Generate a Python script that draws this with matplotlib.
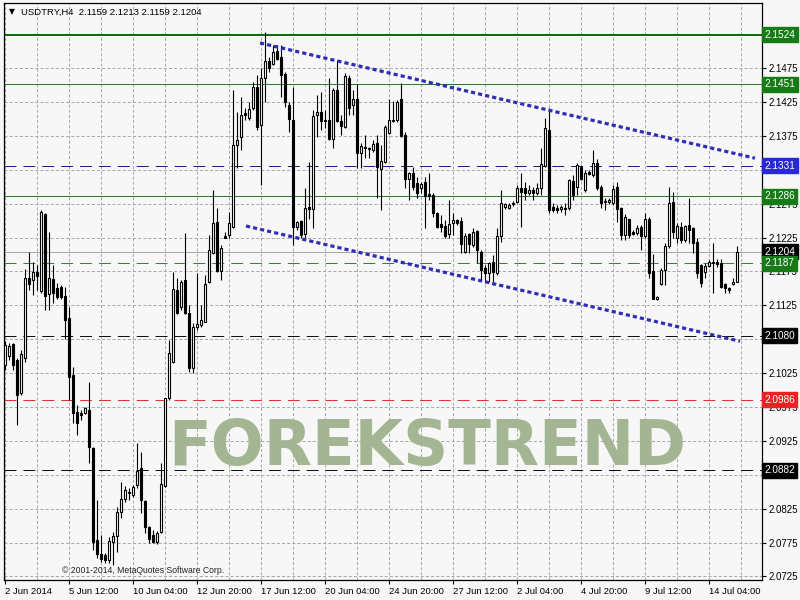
import matplotlib
matplotlib.use('Agg')
import matplotlib.pyplot as plt

plt.rcParams['font.family'] = ['Liberation Sans', 'DejaVu Sans']
plt.rcParams['lines.scale_dashes'] = False

# USDTRY H4 candles, 2 Jun - 15 Jul 2014
opens = [2.1037, 2.1050, 2.1068, 2.1044, 2.0995, 2.1048, 2.1166, 2.1162,
         2.1174, 2.1146, 2.1259, 2.1141, 2.1164, 2.1150, 2.1152, 2.1138,
         2.1106, 2.1022, 2.0967, 2.0966, 2.0966, 2.0970, 2.0914, 2.0779,
         2.0758, 2.0756, 2.0749, 2.0776, 2.0784, 2.0820, 2.0840, 2.0848,
         2.0845, 2.0860, 2.0885, 2.0836, 2.0798, 2.0786, 2.0776, 2.0790,
         2.0858, 2.0988, 2.1041, 2.1147, 2.1122, 2.1162, 2.1113, 2.1032,
         2.1093, 2.1096, 2.1101, 2.1159, 2.1202, 2.1248, 2.1175, 2.1227,
         2.1228, 2.1240, 2.1361, 2.1373, 2.1408, 2.1401, 2.1416, 2.1447,
         2.1391, 2.1460, 2.1485, 2.1481, 2.1500, 2.1491, 2.1466, 2.1420,
         2.1398, 2.1240, 2.1249, 2.1230, 2.1270, 2.1267, 2.1405, 2.1410,
         2.1397, 2.1398, 2.1371, 2.1442, 2.1397, 2.1388, 2.1460, 2.1420,
         2.1430, 2.1349, 2.1357, 2.1355, 2.1354, 2.1364, 2.1326, 2.1336,
         2.1379, 2.1397, 2.1398, 2.1429, 2.1376, 2.1312, 2.1320, 2.1305,
         2.1298, 2.1307, 2.1289, 2.1287, 2.1261, 2.1245, 2.1242, 2.1230,
         2.1246, 2.1251, 2.1249, 2.1203, 2.1230, 2.1214, 2.1234, 2.1203,
         2.1180, 2.1172, 2.1189, 2.1172, 2.1227, 2.1270, 2.1268, 2.1274,
         2.1277, 2.1298, 2.1298, 2.1290, 2.1295, 2.1290, 2.1298, 2.1330,
         2.1383, 2.1270, 2.1268, 2.1267, 2.1268, 2.1268, 2.1308, 2.1299,
         2.1329, 2.1295, 2.1321, 2.1317, 2.1335, 2.1299, 2.1279, 2.1277,
         2.1276, 2.1299, 2.1268, 2.1228, 2.1252, 2.1233, 2.1231, 2.1240,
         2.1227, 2.1253, 2.1175, 2.1134, 2.1156, 2.1177, 2.1212, 2.1277,
         2.1224, 2.1240, 2.1222, 2.1243, 2.1239, 2.1218, 2.1184, 2.1174,
         2.1183, 2.1187, 2.1189, 2.1187, 2.1156, 2.1150, 2.1156, 2.1159]
highs = [2.1072, 2.1069, 2.1069, 2.1048, 2.1059, 2.1178, 2.1203, 2.1189,
         2.1184, 2.1265, 2.1261, 2.1233, 2.1184, 2.1158, 2.1155, 2.1152,
         2.1122, 2.1034, 2.0978, 2.0970, 2.0975, 2.1012, 2.0916, 2.0838,
         2.0786, 2.0759, 2.0783, 2.0790, 2.0827, 2.0864, 2.0858, 2.0855,
         2.0860, 2.0922, 2.0908, 2.0838, 2.0799, 2.0793, 2.0792, 2.0892,
         2.0989, 2.1074, 2.1174, 2.1166, 2.1162, 2.1231, 2.1125, 2.1099,
         2.1172, 2.1125, 2.1169, 2.1228, 2.1295, 2.1268, 2.1214, 2.1233,
         2.1262, 2.1442, 2.1410, 2.1432, 2.1416, 2.1425, 2.1454, 2.1464,
         2.1475, 2.1528, 2.1491, 2.1509, 2.1509, 2.1509, 2.1469, 2.1425,
         2.1447, 2.1249, 2.1251, 2.1298, 2.1336, 2.1413, 2.1435, 2.1439,
         2.1413, 2.1461, 2.1445, 2.1487, 2.1405, 2.1467, 2.1464, 2.1442,
         2.1451, 2.1364, 2.1376, 2.1358, 2.1369, 2.1376, 2.1361, 2.1391,
         2.1429, 2.1426, 2.1428, 2.1453, 2.1380, 2.1321, 2.1329, 2.1314,
         2.1307, 2.1314, 2.1320, 2.1290, 2.1262, 2.1258, 2.1251, 2.1280,
         2.1261, 2.1253, 2.1255, 2.1231, 2.1231, 2.1239, 2.1236, 2.1206,
         2.1184, 2.1189, 2.1199, 2.1239, 2.1295, 2.1276, 2.1276, 2.1279,
         2.1302, 2.1320, 2.1307, 2.1302, 2.1299, 2.1305, 2.1357, 2.1402,
         2.1416, 2.1276, 2.1273, 2.1273, 2.1276, 2.1312, 2.1317, 2.1335,
         2.1332, 2.1324, 2.1324, 2.1354, 2.1341, 2.1302, 2.1284, 2.1283,
         2.1302, 2.1307, 2.1270, 2.1259, 2.1253, 2.1236, 2.1243, 2.1243,
         2.1261, 2.1255, 2.1200, 2.1138, 2.1180, 2.1217, 2.1299, 2.1292,
         2.1246, 2.1248, 2.1243, 2.1284, 2.1240, 2.1224, 2.1186, 2.1187,
         2.1192, 2.1217, 2.1194, 2.1194, 2.1158, 2.1152, 2.1165, 2.1213]
lows = [2.1029, 2.1044, 2.1029, 2.0948, 2.0992, 2.1041, 2.1147, 2.1140,
        2.1147, 2.1143, 2.1118, 2.1118, 2.1128, 2.1135, 2.1134, 2.1075,
        2.0985, 2.0951, 2.0933, 2.0956, 2.0964, 2.0892, 2.0764, 2.0752,
        2.0746, 2.0745, 2.0745, 2.0742, 2.0761, 2.0812, 2.0835, 2.0838,
        2.0842, 2.0855, 2.0818, 2.0789, 2.0774, 2.0774, 2.0773, 2.0789,
        2.0857, 2.0985, 2.1040, 2.1112, 2.1118, 2.1112, 2.1026, 2.1025,
        2.1088, 2.1093, 2.1100, 2.1158, 2.1201, 2.1174, 2.1162, 2.1224,
        2.1225, 2.1239, 2.1327, 2.1354, 2.1398, 2.1398, 2.1413, 2.1383,
        2.1302, 2.1425, 2.1469, 2.1479, 2.1487, 2.1432, 2.1417, 2.1380,
        2.1214, 2.1236, 2.1225, 2.1225, 2.1253, 2.1239, 2.1373, 2.1383,
        2.1386, 2.1369, 2.1357, 2.1395, 2.1376, 2.1386, 2.1405, 2.1405,
        2.1327, 2.1327, 2.1343, 2.1343, 2.1351, 2.1284, 2.1265, 2.1335,
        2.1378, 2.1395, 2.1395, 2.1373, 2.1298, 2.1280, 2.1295, 2.1283,
        2.1290, 2.1239, 2.1280, 2.1255, 2.1239, 2.1233, 2.1225, 2.1225,
        2.1228, 2.1243, 2.1202, 2.1202, 2.1202, 2.1211, 2.1187, 2.1162,
        2.1159, 2.1159, 2.1155, 2.1169, 2.1218, 2.1267, 2.1267, 2.1271,
        2.1276, 2.1240, 2.1280, 2.1287, 2.1280, 2.1287, 2.1287, 2.1329,
        2.1261, 2.1262, 2.1261, 2.1262, 2.1258, 2.1265, 2.1280, 2.1287,
        2.1310, 2.1292, 2.1317, 2.1314, 2.1295, 2.1268, 2.1265, 2.1274,
        2.1273, 2.1248, 2.1221, 2.1221, 2.1224, 2.1228, 2.1228, 2.1206,
        2.1225, 2.1166, 2.1134, 2.1133, 2.1155, 2.1155, 2.1209, 2.1224,
        2.1217, 2.1217, 2.1219, 2.1217, 2.1202, 2.1166, 2.1152, 2.1166,
        2.1181, 2.1143, 2.1181, 2.1150, 2.1143, 2.1143, 2.1155, 2.1159]
closes = [2.1066, 2.1065, 2.1037, 2.0992, 2.1053, 2.1165, 2.1156, 2.1174,
          2.1168, 2.1262, 2.1138, 2.1165, 2.1143, 2.1137, 2.1137, 2.1103,
          2.1019, 2.0966, 2.0951, 2.0963, 2.0973, 2.0916, 2.0776, 2.0758,
          2.0751, 2.0749, 2.0777, 2.0784, 2.0820, 2.0839, 2.0852, 2.0850,
          2.0857, 2.0880, 2.0838, 2.0798, 2.0781, 2.0776, 2.0789, 2.0861,
          2.0988, 2.1054, 2.1149, 2.1113, 2.1159, 2.1113, 2.1032, 2.1093,
          2.1097, 2.1103, 2.1156, 2.1206, 2.1246, 2.1175, 2.1209, 2.1225,
          2.1246, 2.1361, 2.1369, 2.1405, 2.1405, 2.1414, 2.1447, 2.1388,
          2.1461, 2.1485, 2.1475, 2.1498, 2.1489, 2.1464, 2.1425, 2.1400,
          2.1240, 2.1248, 2.1228, 2.1268, 2.1267, 2.1404, 2.1410, 2.1397,
          2.1398, 2.1371, 2.1442, 2.1397, 2.1389, 2.1463, 2.1416, 2.1429,
          2.1349, 2.1360, 2.1358, 2.1357, 2.1363, 2.1329, 2.1338, 2.1388,
          2.1398, 2.1398, 2.1425, 2.1374, 2.1312, 2.1320, 2.1299, 2.1290,
          2.1304, 2.1286, 2.1286, 2.1261, 2.1240, 2.1240, 2.1227, 2.1245,
          2.1251, 2.1246, 2.1215, 2.1227, 2.1215, 2.1233, 2.1206, 2.1177,
          2.1172, 2.1187, 2.1174, 2.1227, 2.1276, 2.1274, 2.1273, 2.1276,
          2.1298, 2.1292, 2.1290, 2.1295, 2.1290, 2.1298, 2.1333, 2.1386,
          2.1265, 2.1265, 2.1265, 2.1270, 2.1267, 2.1310, 2.1287, 2.1332,
          2.1312, 2.1320, 2.1319, 2.1335, 2.1298, 2.1276, 2.1277, 2.1280,
          2.1296, 2.1267, 2.1228, 2.1255, 2.1228, 2.1230, 2.1239, 2.1227,
          2.1252, 2.1172, 2.1135, 2.1137, 2.1177, 2.1212, 2.1276, 2.1233,
          2.1242, 2.1221, 2.1242, 2.1236, 2.1217, 2.1172, 2.1158, 2.1183,
          2.1189, 2.1189, 2.1186, 2.1152, 2.1150, 2.1147, 2.1160, 2.1204]

tick_bars = [0, 16, 32, 48, 64, 80, 96, 112, 128, 144, 160, 176]
tick_labels = ['2 Jun 2014', '5 Jun 12:00', '10 Jun 04:00', '12 Jun 20:00',
               '17 Jun 12:00', '20 Jun 04:00', '24 Jun 20:00', '27 Jun 12:00',
               '2 Jul 04:00', '4 Jul 20:00', '9 Jul 12:00', '14 Jul 04:00']
price_ticks = [2.0725, 2.0775, 2.0825, 2.0875, 2.0925, 2.0975, 2.1025, 2.1075,
               2.1125, 2.1175, 2.1225, 2.1275, 2.1325, 2.1375, 2.1425, 2.1475, 2.1525]
# tick labels fully hidden behind a level box in the terminal
hidden_ticks = [2.0875, 2.1075, 2.1325, 2.1525]

# horizontal levels drawn on the chart
levels = [2.1524, 2.1451, 2.1331, 2.1286, 2.1204, 2.1187, 2.1080, 2.0986, 2.0882]
level_colors = ['#0b6e0b', '#2d7a2d', '#1f1f80', '#2d7a2d', '#a8a8a8',
                '#2d8a2d', '#111111', '#e03434', '#111111']
level_dashed = [False, False, True, False, False, True, True, True, True]
level_widths = [2.0, 1.0, 1.0, 1.0, 1.0, 1.0, 1.0, 1.0, 1.0]
box_colors = ['#167a16', '#167a16', '#2828d8', '#167a16', '#000000',
              '#167a16', '#000000', '#ec2222', '#000000']

# channel trend lines (bar index, price)
upper_bars = [63.75, 187.5]
upper_prices = [2.1512, 2.1342]
lower_bars = [60.25, 183.75]
lower_prices = [2.1242, 2.1072]

bg = '#f7f7f7'
fig = plt.figure(figsize=(8, 6), dpi=100, facecolor=bg)
ax = fig.add_axes([0.005, 0.0333, 0.9475, 0.9617])
ax.set_facecolor(bg)

ax.set_xlim(-0.25, 189.25)
ax.set_ylim(2.07198, 2.15709)

# grid
grid_kw = dict(color='#a9a9a9', lw=0.72, linestyle=(0, (2.2, 1.5)))
ax.set_xticks(tick_bars)
ax.set_xticks([b + 8 for b in tick_bars], minor=True)
ax.set_yticks(price_ticks)
ax.grid(True, which='major', **grid_kw)
ax.grid(True, which='minor', axis='x', **grid_kw)
ax.set_axisbelow(True)

ax.set_xticklabels(tick_labels, fontsize=6.8)
for lbl in ax.get_xticklabels():
    lbl.set_ha('left')
ax.yaxis.tick_right()
ax.set_yticklabels(['' if p in hidden_ticks else f'{p:.4f}' for p in price_ticks],
                   fontsize=7)
ax.tick_params(axis='x', which='major', length=3, width=0.8, pad=2)
ax.tick_params(axis='x', which='minor', length=0)
ax.tick_params(axis='y', length=3, width=0.8, pad=2)
for s in ax.spines.values():
    s.set_linewidth(0.9)
    s.set_color('black')

# watermark
ax.text(0.558, 0.228, 'FOREKSTREND', transform=ax.transAxes, fontsize=45,
        fontweight='bold', family='DejaVu Sans', color='#a3b592',
        ha='center', va='center', zorder=1)

# levels
for p, c, d, w in zip(levels, level_colors, level_dashed, level_widths):
    ls = (0, (8.6, 5.0)) if d else '-'
    ax.axhline(p, color=c, lw=w * 0.72, linestyle=ls, zorder=2)

# trend lines
for bx, py in [(upper_bars, upper_prices), (lower_bars, lower_prices)]:
    ax.plot(bx, py, color='#2e2eb4', lw=2.3, linestyle=(0, (3.0, 2.2)),
            dash_capstyle='butt', zorder=5)

# candles
bars = list(range(len(opens)))
ax.vlines(bars, lows, highs, color='black', lw=0.8, zorder=3)
bottoms = [min(o, c) for o, c in zip(opens, closes)]
heights = [max(abs(c - o), 0.00003) for o, c in zip(opens, closes)]
fills = ['white' if c >= o else 'black' for o, c in zip(opens, closes)]
ax.bar(bars, heights, bottom=bottoms, width=0.55, color=fills,
       edgecolor='black', linewidth=0.8, zorder=4)

# price boxes on the axis
for p, c in zip(levels, box_colors):
    ax.annotate(f'{p:.4f}', xy=(1, p), xycoords=('axes fraction', 'data'),
                xytext=(1.6, 0), textcoords='offset points', ha='left',
                va='center', fontsize=7.2, color='white',
                bbox=dict(boxstyle='square,pad=0.25', fc=c, ec=c),
                annotation_clip=False, zorder=10)

# header and copyright
fig.text(0.011, 0.98, '\u25bc', fontsize=5.5, family='DejaVu Sans', va='center')
fig.text(0.026, 0.98, 'USDTRY,H4  2.1159 2.1213 2.1159 2.1204', fontsize=6.8, va='center')
ax.text(0.0765, 0.008, '\u00a9 2001-2014, MetaQuotes Software Corp.',
        transform=ax.transAxes, fontsize=6.2, va='bottom', color='#222222')

fig.savefig('out.png', dpi=100, facecolor=bg)
